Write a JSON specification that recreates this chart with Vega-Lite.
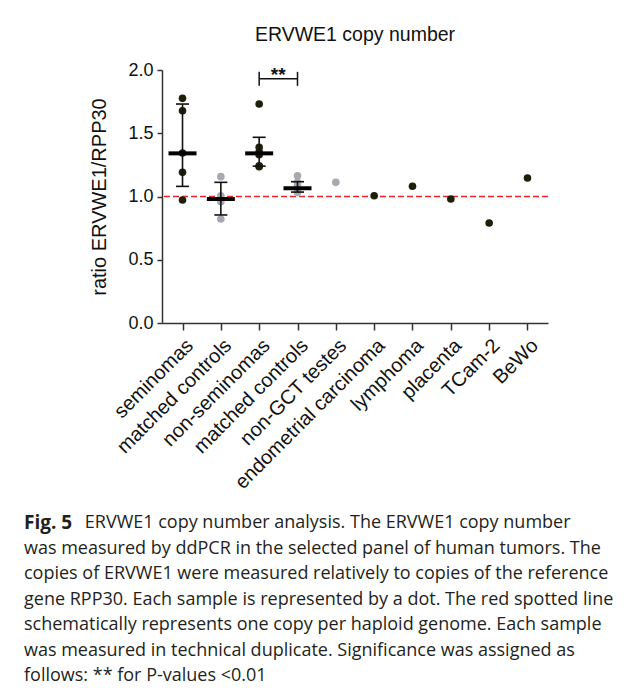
{
  "$schema": "https://vega.github.io/schema/vega-lite/v6.json",
  "background": "white",
  "padding": {"left": 24, "top": 24, "right": 5, "bottom": 5},
  "config": {
    "view": {"stroke": null},
    "font": "Liberation Sans",
    "tick": {"opacity": 1},
    "rule": {"opacity": 1},
    "axisX": {"domainColor": "#333", "domainWidth": 1.5, "tickColor": "#333", "tickWidth": 1.5, "tickSize": 7, "labelFontSize": 20, "labelAngle": -45, "labelColor": "#111", "labelLimit": 0, "labelPadding": 5, "grid": false},
    "axisY": {"domainColor": "#333", "domainWidth": 1.5, "tickColor": "#333", "tickWidth": 1.5, "tickSize": 5, "labelFontSize": 18, "labelColor": "#111", "labelPadding": 4, "titleFontSize": 20, "titleFontWeight": "normal", "titleColor": "#111", "titlePadding": 18, "grid": false}
  },
  "datasets": {
    "points": [
      {"group": "seminomas", "kind": "tumor", "ratio": 1.776},
      {"group": "seminomas", "kind": "tumor", "ratio": 1.678},
      {"group": "seminomas", "kind": "tumor", "ratio": 1.344},
      {"group": "seminomas", "kind": "tumor", "ratio": 1.191},
      {"group": "seminomas", "kind": "tumor", "ratio": 0.972},
      {"group": "matched controls|1", "kind": "control", "ratio": 1.157},
      {"group": "matched controls|1", "kind": "control", "ratio": 1.006},
      {"group": "matched controls|1", "kind": "control", "ratio": 0.98},
      {"group": "matched controls|1", "kind": "control", "ratio": 0.959},
      {"group": "matched controls|1", "kind": "control", "ratio": 0.822},
      {"group": "non-seminomas", "kind": "tumor", "ratio": 1.731},
      {"group": "non-seminomas", "kind": "tumor", "ratio": 1.389},
      {"group": "non-seminomas", "kind": "tumor", "ratio": 1.354},
      {"group": "non-seminomas", "kind": "tumor", "ratio": 1.33},
      {"group": "non-seminomas", "kind": "tumor", "ratio": 1.243},
      {"group": "non-seminomas", "kind": "tumor", "ratio": 1.236},
      {"group": "matched controls|2", "kind": "control", "ratio": 1.164},
      {"group": "matched controls|2", "kind": "control", "ratio": 1.112},
      {"group": "matched controls|2", "kind": "control", "ratio": 1.09},
      {"group": "matched controls|2", "kind": "control", "ratio": 1.078},
      {"group": "matched controls|2", "kind": "control", "ratio": 1.06},
      {"group": "matched controls|2", "kind": "control", "ratio": 1.033},
      {"group": "non-GCT testes", "kind": "control", "ratio": 1.112},
      {"group": "endometrial carcinoma", "kind": "tumor", "ratio": 1.006},
      {"group": "lymphoma", "kind": "tumor", "ratio": 1.081},
      {"group": "placenta", "kind": "tumor", "ratio": 0.98},
      {"group": "TCam-2", "kind": "tumor", "ratio": 0.791},
      {"group": "BeWo", "kind": "tumor", "ratio": 1.146}
    ],
    "summary": [
      {"group": "seminomas", "mid": 1.341, "lo": 1.08, "hi": 1.731},
      {"group": "matched controls|1", "mid": 0.98, "lo": 0.854, "hi": 1.112},
      {"group": "non-seminomas", "mid": 1.341, "lo": 1.24, "hi": 1.468},
      {"group": "matched controls|2", "mid": 1.065, "lo": 1.035, "hi": 1.117}
    ],
    "reference": [{"ref": 1}],
    "sig": [{"group": "non-seminomas", "to": "matched controls|2", "y": 1.93, "label": "**"}]
  },
  "title": {
    "text": "Fig. 5",
    "orient": "bottom",
    "anchor": "start",
    "frame": "group",
    "font": "Open Sans",
    "fontSize": 19,
    "fontWeight": "bold",
    "color": "#231f20",
    "offset": 22,
    "dx": -138,
    "subtitle": [
      "\u200b\u00a0\u00a0\u00a0\u00a0\u00a0\u00a0\u00a0\u00a0\u00a0\u00a0\u00a0\u00a0\u00a0ERVWE1 copy number analysis. The ERVWE1 copy number",
      "was measured by ddPCR in the selected panel of human tumors. The",
      "copies of ERVWE1 were measured relatively to copies of the reference",
      "gene RPP30. Each sample is represented by a dot. The red spotted line",
      "schematically represents one copy per haploid genome. Each sample",
      "was measured in technical duplicate. Significance was assigned as",
      "follows: ** for P-values <0.01"
    ],
    "subtitleFont": "Open Sans",
    "subtitleFontSize": 18,
    "subtitleColor": "#231f20",
    "subtitleLineHeight": 25.5,
    "subtitlePadding": -19
  },
  "vconcat": [
    {
      "width": 386,
      "height": 253,
      "title": {"text": "ERVWE1 copy number", "font": "Liberation Sans", "fontSize": 19.5, "fontWeight": "normal", "color": "#111", "frame": "group", "anchor": "middle", "offset": 16},
      "layer": [
        {
          "data": {"name": "reference"},
          "mark": {"type": "rule", "color": "#e8262b", "strokeDash": [6, 3], "strokeWidth": 1.5},
          "encoding": {
            "y": {"field": "ref", "type": "quantitative", "title": "ratio ERVWE1/RPP30", "scale": {"domain": [0, 2], "nice": false}}
          }
        },
        {
          "data": {"name": "points"},
          "mark": {"type": "circle", "size": 58, "opacity": 1},
          "encoding": {
            "x": {"field": "group", "type": "nominal", "title": null,
                  "scale": {"type": "point", "padding": 0.535, "domain": ["seminomas", "matched controls|1", "non-seminomas", "matched controls|2", "non-GCT testes", "endometrial carcinoma", "lymphoma", "placenta", "TCam-2", "BeWo"]},
                  "axis": {"labelExpr": "split(datum.label, '|')[0]"}},
            "y": {"field": "ratio", "type": "quantitative", "title": "ratio ERVWE1/RPP30", "scale": {"domain": [0, 2], "nice": false}, "axis": {"values": [0, 0.5, 1, 1.5, 2], "format": ".1f"}},
            "color": {"field": "kind", "type": "nominal", "scale": {"domain": ["tumor", "control"], "range": ["#1f1e0b", "#a8a8b0"]}, "legend": null}
          }
        },
        {
          "data": {"name": "summary"},
          "mark": {"type": "rule", "color": "#111", "strokeWidth": 1.6},
          "encoding": {
            "x": {"field": "group", "type": "nominal", "title": null, "scale": {"type": "point", "padding": 0.535, "domain": ["seminomas", "matched controls|1", "non-seminomas", "matched controls|2", "non-GCT testes", "endometrial carcinoma", "lymphoma", "placenta", "TCam-2", "BeWo"]}},
            "y": {"field": "lo", "type": "quantitative", "title": "ratio ERVWE1/RPP30", "scale": {"domain": [0, 2], "nice": false}},
            "y2": {"field": "hi"}
          }
        },
        {
          "data": {"name": "summary"},
          "mark": {"type": "tick", "color": "#111", "size": 13, "thickness": 1.6},
          "encoding": {
            "x": {"field": "group", "type": "nominal", "title": null, "scale": {"type": "point", "padding": 0.535, "domain": ["seminomas", "matched controls|1", "non-seminomas", "matched controls|2", "non-GCT testes", "endometrial carcinoma", "lymphoma", "placenta", "TCam-2", "BeWo"]}},
            "y": {"field": "lo", "type": "quantitative", "title": "ratio ERVWE1/RPP30", "scale": {"domain": [0, 2], "nice": false}}
          }
        },
        {
          "data": {"name": "summary"},
          "mark": {"type": "tick", "color": "#111", "size": 13, "thickness": 1.6},
          "encoding": {
            "x": {"field": "group", "type": "nominal", "title": null, "scale": {"type": "point", "padding": 0.535, "domain": ["seminomas", "matched controls|1", "non-seminomas", "matched controls|2", "non-GCT testes", "endometrial carcinoma", "lymphoma", "placenta", "TCam-2", "BeWo"]}},
            "y": {"field": "hi", "type": "quantitative", "title": "ratio ERVWE1/RPP30", "scale": {"domain": [0, 2], "nice": false}}
          }
        },
        {
          "data": {"name": "summary"},
          "mark": {"type": "tick", "color": "#000", "size": 28, "thickness": 4},
          "encoding": {
            "x": {"field": "group", "type": "nominal", "title": null, "scale": {"type": "point", "padding": 0.535, "domain": ["seminomas", "matched controls|1", "non-seminomas", "matched controls|2", "non-GCT testes", "endometrial carcinoma", "lymphoma", "placenta", "TCam-2", "BeWo"]}},
            "y": {"field": "mid", "type": "quantitative", "title": "ratio ERVWE1/RPP30", "scale": {"domain": [0, 2], "nice": false}}
          }
        },
        {
          "data": {"name": "sig"},
          "mark": {"type": "rule", "color": "#111", "strokeWidth": 1.5},
          "encoding": {
            "x": {"field": "group", "type": "nominal", "title": null, "scale": {"type": "point", "padding": 0.535, "domain": ["seminomas", "matched controls|1", "non-seminomas", "matched controls|2", "non-GCT testes", "endometrial carcinoma", "lymphoma", "placenta", "TCam-2", "BeWo"]}},
            "x2": {"field": "to"},
            "y": {"field": "y", "type": "quantitative", "title": "ratio ERVWE1/RPP30", "scale": {"domain": [0, 2], "nice": false}}
          }
        },
        {
          "data": {"name": "sig"},
          "mark": {"type": "tick", "color": "#111", "orient": "vertical", "size": 14, "thickness": 1.5},
          "encoding": {
            "x": {"field": "group", "type": "nominal", "title": null, "scale": {"type": "point", "padding": 0.535, "domain": ["seminomas", "matched controls|1", "non-seminomas", "matched controls|2", "non-GCT testes", "endometrial carcinoma", "lymphoma", "placenta", "TCam-2", "BeWo"]}},
            "y": {"field": "y", "type": "quantitative", "title": "ratio ERVWE1/RPP30", "scale": {"domain": [0, 2], "nice": false}}
          }
        },
        {
          "data": {"name": "sig"},
          "mark": {"type": "tick", "color": "#111", "orient": "vertical", "size": 14, "thickness": 1.5},
          "encoding": {
            "x": {"field": "to", "type": "nominal", "title": null, "scale": {"type": "point", "padding": 0.535, "domain": ["seminomas", "matched controls|1", "non-seminomas", "matched controls|2", "non-GCT testes", "endometrial carcinoma", "lymphoma", "placenta", "TCam-2", "BeWo"]}},
            "y": {"field": "y", "type": "quantitative", "title": "ratio ERVWE1/RPP30", "scale": {"domain": [0, 2], "nice": false}}
          }
        },
        {
          "data": {"name": "sig"},
          "mark": {"type": "text", "color": "#111", "fontSize": 19, "fontWeight": "bold", "baseline": "alphabetic", "dx": 19, "dy": 2},
          "encoding": {
            "x": {"field": "group", "type": "nominal", "title": null, "scale": {"type": "point", "padding": 0.535, "domain": ["seminomas", "matched controls|1", "non-seminomas", "matched controls|2", "non-GCT testes", "endometrial carcinoma", "lymphoma", "placenta", "TCam-2", "BeWo"]}},
            "y": {"field": "y", "type": "quantitative", "title": "ratio ERVWE1/RPP30", "scale": {"domain": [0, 2], "nice": false}},
            "text": {"field": "label"}
          }
        }
      ]
    }
  ]
}
